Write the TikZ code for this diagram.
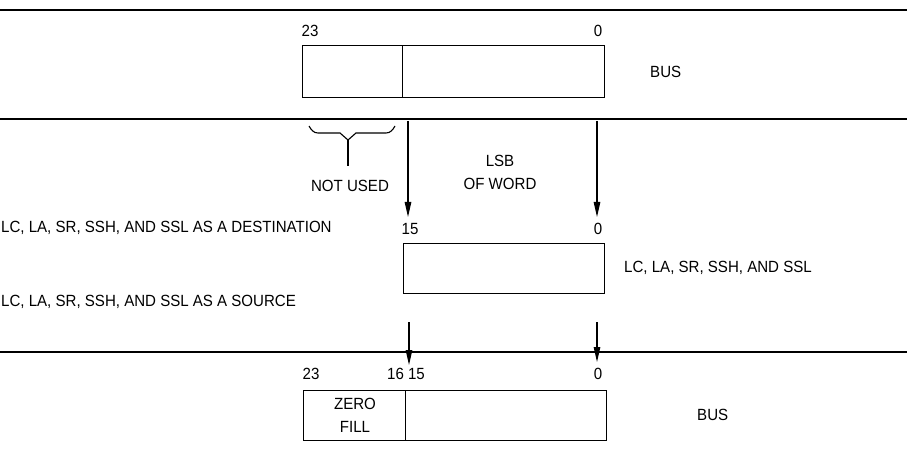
\documentclass[tikz,border=0pt]{standalone}
\usepackage{fontspec}
\setmainfont[FakeStretch=0.93]{Liberation Sans}
\usetikzlibrary{arrows.meta}
\begin{document}
\begin{tikzpicture}[x=1pt,y=-1pt,
  busline/.style={line width=2.6pt},
  reg/.style={draw,line width=1.4pt,minimum height=52pt,inner sep=0pt,anchor=north west},
  lbl/.style={font=\fontsize{16.2}{18}\selectfont,inner sep=0pt},
  flow/.style={line width=1.1pt,-{Triangle[length=15pt,width=6.5pt]}}]
\useasboundingbox (0,0) rectangle (907,462);
% bus lines
\coordinate (l1a) at (0,10); \coordinate (l1b) at (907,10);
\coordinate (l2a) at (0,119); \coordinate (l2b) at (907,119);
\coordinate (l3a) at (0,352); \coordinate (l3b) at (907,352);
\draw[busline] (l1a) -- (l1b);
\draw[busline] (l2a) -- (l2b);
\draw[busline] (l3a) -- (l3b);
% top register
\node[reg,minimum width=100pt] (t1) at (302,45) {};
\node[reg,minimum width=202pt] (t2) at (402,45) {};
\node[lbl] (t23) at (310,31) {23};
\node[lbl] (t0) at (598,31) {0};
\node[lbl,anchor=west] (tbus) at (650,72) {BUS};
% not used brace
\coordinate (br) at (348,140);
\coordinate (brs) at (348,166);
\draw[line width=1.1pt] (309,126) to[out=-60,in=180] (318,133) -- (340,133) -- (br) -- (356,133) -- (386,133) to[out=0,in=-120] (395,126);
\draw[line width=1.1pt] (br) -- (brs);
\node[lbl] (nu) at (350,186) {NOT USED};
\node[lbl,align=center] (lsb) at (500,172) {LSB\\[5pt]OF WORD};
% arrows into middle
\coordinate (a1s) at (408,121); \coordinate (a1e) at (408,217);
\coordinate (a2s) at (597,121); \coordinate (a2e) at (597,217);
\draw[flow] (a1s) -- (a1e);
\draw[flow] (a2s) -- (a2e);
\node[lbl,anchor=west] (dest) at (1,228) {LC, LA, SR, SSH, AND SSL AS A DESTINATION};
\node[lbl] (m15) at (410,229) {15};
\node[lbl] (m0) at (598,229) {0};
% middle register
\node[reg,minimum width=201pt,minimum height=50pt] (mid) at (403,243) {};
\node[lbl,anchor=west] (mlab) at (624,268) {LC, LA, SR, SSH, AND SSL};
\node[lbl,anchor=west] (src) at (1,302) {LC, LA, SR, SSH, AND SSL AS A SOURCE};
% arrows out of middle
\coordinate (b1s) at (409,322); \coordinate (b1e) at (409,365);
\coordinate (b2s) at (597,322); \coordinate (b2e) at (597,362);
\draw[flow] (b1s) -- (b1e);
\draw[flow] (b2s) -- (b2e);
% bottom register
\node[lbl] (b23) at (311,374) {23};
\node[lbl] (b1615) at (406,374) {16 15};
\node[lbl] (b0) at (598,374) {0};
\node[reg,minimum width=102pt,minimum height=50pt] (zf) at (303,390) {};
\node[lbl,align=center] (zft) at (355,415) {ZERO\\[5pt]FILL};
\node[reg,minimum width=201pt,minimum height=50pt] (b2) at (405,390) {};
\node[lbl,anchor=west] (bbus) at (697,415) {BUS};
\end{tikzpicture}
\end{document}
